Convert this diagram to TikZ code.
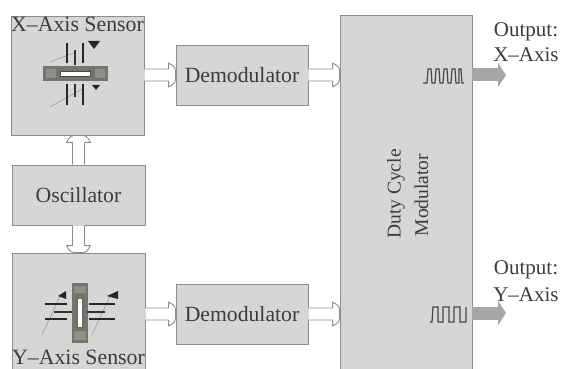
\documentclass[tikz,border=0pt]{standalone}
\usepackage{fontspec}
\setmainfont{Liberation Serif}
\usetikzlibrary{arrows.meta,calc}
\definecolor{boxfill}{HTML}{D6D6D6}
\definecolor{boxline}{HTML}{8C8C8C}
\definecolor{txt}{HTML}{3C3C3C}
\definecolor{barc}{HTML}{74746A}
\definecolor{barl}{HTML}{8E8E8A}
\definecolor{outc}{HTML}{A6A6A6}
\tikzset{
  block/.style={draw=boxline,fill=boxfill,line width=0.9pt,inner sep=0pt,text=txt,font=\fontsize{21.7}{23}\selectfont},
  hollow/.style={draw=boxline,line width=0.9pt,fill=white,line join=round},
  outarrow/.style={draw=outc,line width=13pt,-{Triangle[length=8pt,width=24pt,fill=outc]}},
  label/.style={text=txt,font=\fontsize{21}{23}\selectfont,inner sep=0pt},
  sidelabel/.style={text=txt,font=\fontsize{19.5}{21}\selectfont,inner sep=0pt,rotate=90},
  thickbar/.style={line width=2.6pt,draw=black!85},
  thinbar/.style={line width=1.8pt,draw=black!80},
  wire/.style={line width=0.6pt,draw=black!40},
  tri/.style={fill=black!85,draw=none},
  pulse/.style={line width=1.2pt,draw=black!72}
}
% hollow block arrow from point #1 to point #2
\newcommand{\hollowarr}[2]{%
  \coordinate (hS) at (#1);
  \coordinate (hT) at (#2);
  \coordinate (hM) at ($(hT)!7pt!(hS)$);
  \coordinate (hA) at ($(hS)!6pt!90:(hT)$);
  \coordinate (hB) at ($(hS)!6pt!-90:(hT)$);
  \coordinate (hC) at ($(hM)!6pt!-90:(hT)$);
  \coordinate (hD) at ($(hM)!6pt!90:(hT)$);
  \coordinate (hE) at ($(hM)!12pt!-90:(hT)$);
  \coordinate (hF) at ($(hM)!12pt!90:(hT)$);
  \coordinate (hG) at ($(hT)!8pt!90:(hS)$);
  \coordinate (hH) at ($(hT)!8pt!-90:(hS)$);
  \draw[hollow] (hA) -- (hD) -- (hF) .. controls (hH) .. (hT) .. controls (hG) .. (hE) -- (hC) -- (hB);
}
\begin{document}
\begin{tikzpicture}[x=1pt,y=-1pt]
\useasboundingbox (0,0) rectangle (563,369);
\clip (0,0) rectangle (563,369);
\node[block,minimum width=133pt,minimum height=119pt] (xs) at (77.5,75.5) {};
\node[block,minimum width=133pt,minimum height=60pt] (osc) at (78.5,195) {Oscillator};
\node[block,minimum width=133pt,minimum height=130pt] (ys) at (78.5,318) {};
\node[block,minimum width=132pt,minimum height=60pt] (dm1) at (242,75) {Demodulator};
\node[block,minimum width=132pt,minimum height=60pt] (dm2) at (242,314) {Demodulator};
\node[block,minimum width=132pt,minimum height=372pt] (duty) at (406,201) {};
\node[sidelabel] (dutya) at (396,194) {Duty Cycle};
\node[sidelabel] (dutyb) at (421.5,195) {Modulator};
\node[label,anchor=base,font=\fontsize{21.8}{23}\selectfont] (xst) at (77.5,32) {X--Axis Sensor};
\node[label,anchor=base,font=\fontsize{21.8}{23}\selectfont] (yst) at (78.5,364.5) {Y--Axis Sensor};
\node[label] (ox1) at (526,32) {Output:};
\node[label] (ox2) at (526,55) {X--Axis};
\node[label] (oy1) at (526,270) {Output:};
\node[label] (oy2) at (526,295) {Y--Axis};
\coordinate (ox) at (506,75);
\coordinate (oy) at (506,313);
% hollow connectors
\hollowarr{xs.east |- dm1.east}{dm1.west}
\hollowarr{dm1.east}{dm1.east -| duty.west}
\hollowarr{ys.east |- dm2.west}{dm2.west}
\hollowarr{dm2.east}{dm2.east -| duty.west}
\hollowarr{osc.north}{osc.north |- xs.south}
\hollowarr{osc.south}{osc.south |- ys.north}
% outputs
\draw[outarrow] (duty.east |- ox) -- (ox);
\draw[outarrow] (duty.east |- oy) -- (oy);
% X sensor
\fill[barc] (43,66) rectangle (108,81);
\fill[barl] (46,69) rectangle (56,78) (95,69) rectangle (105,78);
\fill[white,draw=black!70,line width=0.5pt] (60,71) rectangle (90,76);
\draw[wire] (50,62) -- (76,52);
\draw[wire] (50,107) -- (84,88);
\draw[thickbar] (67,43) -- (67,63) (83,43) -- (83,63) (67,84) -- (67,105) (83,84) -- (83,105);
\draw[thinbar] (75,50) -- (75,65) (75,84) -- (75,97);
\fill[tri] (88,41) -- (100,41) -- (94,49) -- cycle;
\fill[tri] (92,85) -- (100,85) -- (96,90) -- cycle;
% Y sensor
\fill[barc] (72,283) rectangle (88,343);
\fill[barl] (74,286) rectangle (86,293) (74,331) rectangle (86,340);
\fill[white,draw=black!60,line width=0.4pt] (77,298) rectangle (82,327);
\draw[wire] (42,335) -- (60,296);
\draw[wire] (92,335) -- (110,296);
\draw[thickbar] (45,304) -- (67,304) (45,319) -- (67,319) (89,304) -- (115,304) (89,319) -- (115,319);
\draw[thinbar] (54,312) -- (72,312) (87,312) -- (105,312);
\fill[tri] (58,296) -- (66,291) -- (66,299) -- cycle;
\fill[tri] (107,296) -- (118,291) -- (118,299) -- cycle;
% pulses
\draw[pulse] (423,83) -- (427,83) -- (428,69) -- (431,69) -- (432,83) -- (435,83) -- (436,69) -- (439,69) -- (440,83) -- (443,83) -- (444,69) -- (447,69) -- (448,83) -- (451,83) -- (452,69) -- (455,69) -- (456,83) -- (459,83) -- (459,69) -- (461,69) -- (462,83) -- (464,83);
\draw[pulse] (430,322) -- (432,322) -- (433,307) -- (438,307) -- (438,322) -- (443,322) -- (443,307) -- (449,307) -- (449,322) -- (454,322) -- (454,307) -- (460,307) -- (460,322) -- (466,322) -- (466,307);
\end{tikzpicture}
\end{document}
